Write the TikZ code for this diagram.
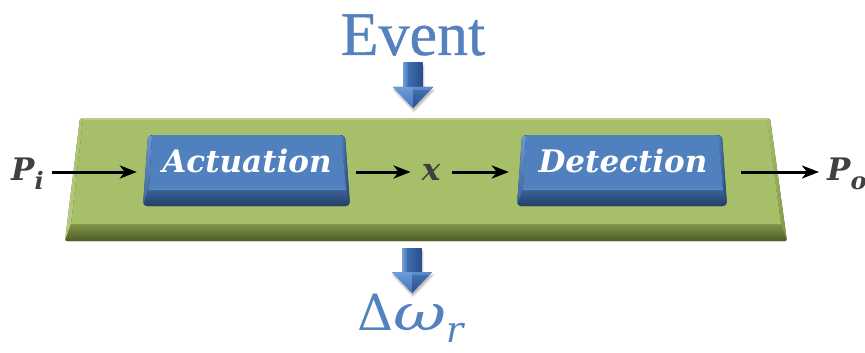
\documentclass[tikz,border=0pt]{standalone}
\usepackage{fontspec}
\newfontfamily\labelfont{DejaVu Serif}
\newfontfamily\titlefont[FakeBold=0.6]{Liberation Serif}
\usetikzlibrary{arrows.meta,shadows.blur}

\definecolor{plateface}{RGB}{167,191,104}
\definecolor{platelight}{RGB}{186,205,135}
\definecolor{platemid}{RGB}{128,148,70}
\definecolor{platedark}{RGB}{78,92,38}
\definecolor{keyface}{RGB}{80,128,189}
\definecolor{keylight}{RGB}{108,152,206}
\definecolor{keymid}{RGB}{60,100,155}
\definecolor{keydark}{RGB}{36,62,104}
\definecolor{titleblue}{RGB}{84,130,190}
\definecolor{inktext}{RGB}{64,64,64}
\definecolor{arrowlight}{RGB}{108,155,218}
\definecolor{arrowmid}{RGB}{70,118,186}
\definecolor{arrowdark}{RGB}{40,78,140}

% a raised key: #1 = top-left x, #2 = top-right x
\newcommand\keycap[2]{%
  \begin{scope}
    \clip[rounded corners=4pt] (#1,135) -- (#2,135) -- ({#2+5},206) -- ({#1-5},206) -- cycle;
    \fill[keydark] ({#1-6},134) rectangle ({#2+6},207);
    \shade[top color=keylight, bottom color=keymid]
      (#1,135) -- ({#1+4},136) -- ({#1+1},189) -- ({#1-5},206) -- cycle;
    \shade[left color=keyface, right color=keydark]
      ({#2-4},136) -- (#2,135) -- ({#2+5},206) -- ({#2+1},189) -- cycle;
    \shade[top color=keymid, bottom color=keydark]
      ({#1+1},189) -- ({#2+1},189) -- ({#2+5},206) -- ({#1-5},206) -- cycle;
    \fill[keyface] ({#1+4},135) -- ({#2-4},135) -- ({#2+1},189) -- ({#1+1},189) -- cycle;
    \draw[keylight!60!keyface, line width=0.8pt] ({#1+1},189.5) -- ({#2+1},189.5);
  \end{scope}}

% a downward block arrow: #1 = centre x, #2 = top y
\newcommand\blockarrow[2]{%
  \fill[arrowmid, blur shadow={shadow xshift=1pt, shadow yshift=-3pt, shadow blur steps=6, shadow opacity=30}]
    ({#1-9.5},#2) -- ({#1+9.5},#2) -- ({#1+9.5},{#2+24}) -- ({#1+20},{#2+24}) -- (#1,{#2+45})
    -- ({#1-20},{#2+24}) -- ({#1-9.5},{#2+24}) -- cycle;
  \shade[left color=arrowmid, right color=arrowdark]
    ({#1-9.5},#2) rectangle ({#1+9.5},{#2+24.5});
  \shade[left color=arrowlight, right color=arrowmid] ({#1-9.5},#2) rectangle ({#1-5},{#2+24.5});
  \shade[top color=arrowlight, bottom color=arrowmid]
    ({#1-20},{#2+24}) -- (#1,{#2+24}) -- (#1,{#2+45}) -- cycle;
  \shade[top color=arrowmid, bottom color=arrowdark]
    (#1,{#2+24}) -- ({#1+20},{#2+24}) -- (#1,{#2+45}) -- cycle;
  \fill[arrowlight, opacity=0.6] ({#1-20},{#2+24}) -- ({#1+20},{#2+24}) -- ({#1+16},{#2+27}) -- ({#1-16},{#2+27}) -- cycle;}

\tikzset{
  flow/.style={draw=black, line width=3pt, -{Stealth[length=17pt, width=13pt, inset=5pt]}},
  keybody/.style={draw=none, inner sep=0pt, minimum width=207pt, minimum height=71pt},
  keytext/.style={text=white, inner sep=0pt, font=\labelfont\bfseries\itshape\fontsize{31}{31}\selectfont},
  signal/.style={text=inktext, inner sep=0pt, font=\labelfont\bfseries\itshape\fontsize{31}{31}\selectfont},
  heading/.style={text=titleblue, inner sep=0pt, font=\titlefont\fontsize{62}{62}\selectfont},
  response/.style={text=titleblue, inner sep=0pt, font=\labelfont\fontsize{50}{50}\selectfont}
}

\begin{document}
\begin{tikzpicture}[x=1pt, y=-1pt]
  \useasboundingbox (0,0) rectangle (865,353);

  % the green base plate
  \begin{scope}
    \clip[rounded corners=2pt] (80,118) -- (770,118) -- (787,241) -- (65,241) -- cycle;
    \fill[platedark] (60,110) rectangle (795,245);
    \fill[platelight] (60,110) rectangle (795,121);
    \shade[left color=platelight, right color=plateface]
      (80,118) -- (83,120) -- (71,224) -- (65,241) -- cycle;
    \shade[left color=plateface, right color=platemid]
      (767,120) -- (770,118) -- (787,241) -- (781,224) -- cycle;
    \shade[top color=platemid, bottom color=platedark]
      (71,224) -- (781,224) -- (787,241) -- (65,241) -- cycle;
    \fill[plateface] (83,120) -- (767,120) -- (781,224) -- (71,224) -- cycle;
  \end{scope}

  % the two keys
  \keycap{148}{345}
  \keycap{522}{722}
  \node[keybody] (act) at (246.5,170.5) {};
  \node[keybody, minimum width=210pt] (det) at (623,170.5) {};
  \node[keytext, anchor=base] (actlabel) at (247,172) {Actuation};
  \node[keytext, anchor=base] (detlabel) at (623,172) {Detection};

  % signals
  \node[signal, anchor=base west] (pin) at (11,180) {P\raisebox{-9pt}{\fontsize{24}{24}\selectfont i}};
  \node[signal, anchor=base west] (pout) at (827,180) {P\raisebox{-9pt}{\fontsize{24}{24}\selectfont o}};
  \node[signal, anchor=base] (xv) at (431,180) {x};
  \coordinate (lane) at (0,172);

  \draw[flow, shorten <=8pt, shorten >=6pt] (pin.east |- lane) -- (act.west |- lane);
  \draw[flow, shorten <=6pt, shorten >=11pt] (act.east |- lane) -- (xv.west |- lane);
  \draw[flow, shorten <=12pt, shorten >=9pt] (xv.east |- lane) -- (det.west |- lane);
  \draw[flow, shorten <=13pt, shorten >=8pt] (det.east |- lane) -- (pout.west |- lane);

  % event input and frequency shift output
  \node[heading, anchor=base] (event) at (413,55) {Event};
  \blockarrow{413}{63}
  \blockarrow{412}{248}
  \node[response, anchor=base west] (shift) at (357,330)
    {Δ\itshape\scalebox{1.3}[1]{ω}\raisebox{-12pt}{\fontsize{36}{36}\selectfont r}};
\end{tikzpicture}
\end{document}
